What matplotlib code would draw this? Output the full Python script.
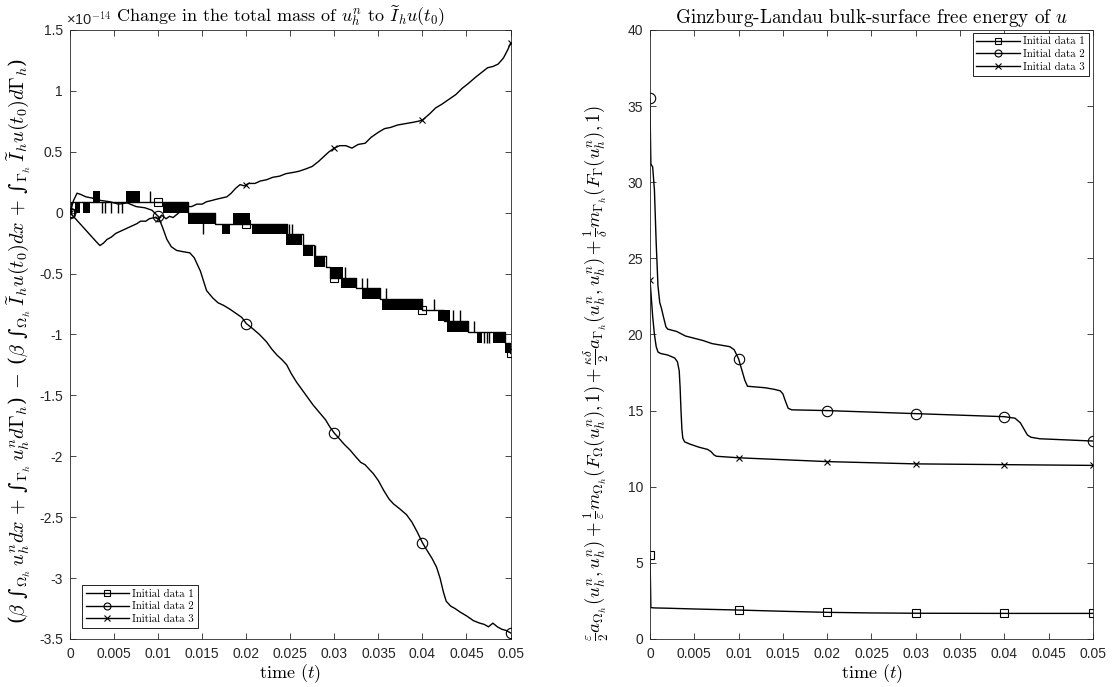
import numpy as np
import matplotlib.pyplot as plt

plt.rcParams["mathtext.fontset"] = "cm"
plt.rcParams["axes.unicode_minus"] = False

# ---------------- left panel: change in total mass (units of 1e-14) ----------------
# Initial data 1: quantised step signal (levels are multiples of ~8.88e-16)
d1_step_t = [0, 0.0001, 0.01, 0.0134, 0.0165, 0.02, 0.0246, 0.0265, 0.0277, 0.0290,
             0.0295, 0.03, 0.0325, 0.0352, 0.04, 0.0425, 0.0452, 0.0494, 0.0499, 0.05]
d1_step_v = [0.0, 0.089, 0.089, 0.0, -0.089, -0.089, -0.178, -0.266, -0.355, -0.444,
             -0.533, -0.533, -0.622, -0.711, -0.799, -0.888, -0.977, -1.066, -1.155, -1.155]
# rapid flicker between two adjacent levels: start, end, low, high
d1_flick_t0 = [0.0006, 0.0015, 0.00265, 0.0064, 0.0106, 0.0134, 0.0172, 0.0185, 0.0206, 0.0245,
               0.0265, 0.0277, 0.0295, 0.0308, 0.0331, 0.0354, 0.0418, 0.0428, 0.0462, 0.0480, 0.0494]
d1_flick_t1 = [0.0011, 0.0023, 0.0034, 0.0079, 0.0134, 0.0164, 0.0182, 0.0204, 0.0246, 0.0263,
               0.0276, 0.0289, 0.0310, 0.0325, 0.0352, 0.0400, 0.0431, 0.0452, 0.0468, 0.0494, 0.0500]
d1_flick_lo = [0.0, 0.0, 0.089, 0.089, 0.0, -0.089, -0.178, -0.089, -0.178, -0.266,
               -0.355, -0.444, -0.533, -0.622, -0.711, -0.799, -0.888, -0.977, -1.066, -1.066, -1.155]
d1_flick_hi = [0.089, 0.089, 0.178, 0.178, 0.089, 0.0, -0.089, 0.0, -0.089, -0.178,
               -0.266, -0.355, -0.444, -0.533, -0.622, -0.711, -0.799, -0.888, -0.977, -0.977, -1.066]
# isolated single flips
d1_stick_t = [0.0036, 0.0040, 0.0047, 0.0055, 0.0059, 0.0091, 0.0151, 0.0248, 0.0252, 0.0278,
              0.0312, 0.0331, 0.0337, 0.0359, 0.0413, 0.0435, 0.0443, 0.0458, 0.0470, 0.0473, 0.0476]
d1_stick_lo = [0.0, 0.0, 0.0, 0.0, 0.0, 0.089, -0.178, -0.178, -0.178, -0.355,
               -0.533, -0.622, -0.622, -0.711, -0.799, -0.888, -0.888, -0.977, -1.066, -1.066, -1.066]
d1_stick_hi = [0.089, 0.089, 0.089, 0.089, 0.089, 0.178, 0.0, -0.089, -0.089, -0.266,
               -0.444, -0.533, -0.533, -0.622, -0.711, -0.799, -0.799, -0.888, -0.977, -0.977, -0.977]

d2_t = [0, 0.0004, 0.0008, 0.0012, 0.0018, 0.0025, 0.003, 0.0035, 0.0045, 0.0055, 0.0065, 0.0075,
        0.0085, 0.0093, 0.01, 0.0105, 0.011, 0.0115, 0.0121, 0.0128, 0.0136, 0.0141, 0.0148, 0.0155,
        0.0162, 0.0168, 0.0174, 0.0181, 0.0189, 0.0195, 0.02, 0.0207, 0.0215, 0.0223, 0.0229, 0.0235,
        0.0241, 0.0246, 0.0251, 0.0257, 0.0265, 0.0271, 0.0276, 0.0283, 0.029, 0.0295, 0.03, 0.0305,
        0.0311, 0.0318, 0.0325, 0.033, 0.0335, 0.034, 0.0344, 0.035, 0.0356, 0.0362, 0.0367, 0.0374,
        0.0382, 0.0388, 0.0394, 0.04, 0.0405, 0.0411, 0.0416, 0.042, 0.0424, 0.0427, 0.0432, 0.0437,
        0.0443, 0.045, 0.0458, 0.0465, 0.047, 0.0475, 0.048, 0.0485, 0.049, 0.0495, 0.05]
d2_v = [0, 0.1, 0.16, 0.15, 0.13, 0.12, 0.11, 0.1, 0.09, 0.07, 0.08, 0.05,
        0.04, 0.02, -0.03, -0.12, -0.22, -0.28, -0.31, -0.32, -0.33, -0.37, -0.48, -0.64,
        -0.7, -0.74, -0.76, -0.79, -0.83, -0.86, -0.91, -0.95, -1.0, -1.06, -1.12, -1.17,
        -1.21, -1.25, -1.32, -1.39, -1.47, -1.53, -1.58, -1.64, -1.7, -1.76, -1.81, -1.85,
        -1.9, -1.95, -2.01, -2.05, -2.07, -2.11, -2.14, -2.2, -2.28, -2.35, -2.39, -2.43,
        -2.48, -2.54, -2.62, -2.71, -2.77, -2.84, -2.91, -3.0, -3.12, -3.19, -3.23, -3.25,
        -3.28, -3.31, -3.35, -3.37, -3.38, -3.4, -3.37, -3.4, -3.42, -3.43, -3.45]

d3_t = [0, 0.0005, 0.001, 0.0015, 0.002, 0.0025, 0.003, 0.0034, 0.0038, 0.0042, 0.0047, 0.0052,
        0.0058, 0.0064, 0.007, 0.0076, 0.008, 0.0086, 0.009, 0.0096, 0.01, 0.0104, 0.0109, 0.0113,
        0.0117, 0.0122, 0.0127, 0.0132, 0.0138, 0.0144, 0.015, 0.0155, 0.0161, 0.0166, 0.0172, 0.0178,
        0.0183, 0.0188, 0.0193, 0.0198, 0.02, 0.0203, 0.021, 0.0216, 0.0223, 0.023, 0.0238, 0.0245,
        0.0253, 0.026, 0.0268, 0.0275, 0.0282, 0.0288, 0.0294, 0.03, 0.0306, 0.0313, 0.032, 0.0327,
        0.0335, 0.0342, 0.035, 0.0357, 0.0364, 0.0372, 0.038, 0.0388, 0.0395, 0.04, 0.0408, 0.0415,
        0.0422, 0.043, 0.0438, 0.0445, 0.0452, 0.046, 0.0467, 0.0474, 0.048, 0.0486, 0.0492, 0.0497, 0.05]
d3_v = [0, -0.04, -0.08, -0.12, -0.16, -0.2, -0.24, -0.27, -0.25, -0.22, -0.2, -0.17,
        -0.15, -0.13, -0.11, -0.09, -0.07, -0.07, -0.05, -0.04, -0.05, -0.02, -0.05, -0.03,
        -0.04, -0.01, 0.02, 0.05, 0.05, 0.07, 0.07, 0.09, 0.1, 0.11, 0.12, 0.13,
        0.16, 0.2, 0.23, 0.22, 0.23, 0.24, 0.24, 0.26, 0.27, 0.29, 0.3, 0.32,
        0.33, 0.34, 0.36, 0.38, 0.42, 0.46, 0.5, 0.53, 0.55, 0.55, 0.53, 0.56,
        0.57, 0.62, 0.66, 0.69, 0.7, 0.72, 0.73, 0.74, 0.75, 0.76, 0.81, 0.86,
        0.89, 0.93, 0.97, 1.02, 1.06, 1.11, 1.15, 1.19, 1.2, 1.22, 1.27, 1.34, 1.39]

# ---------------- right panel: free energy ----------------
e1_t = [0, 0.0001, 0.0005, 0.002, 0.005, 0.01, 0.015, 0.02, 0.025, 0.03, 0.04, 0.05]
e1_v = [5.5, 2.06, 2.04, 2.02, 1.97, 1.9, 1.82, 1.75, 1.71, 1.69, 1.68, 1.68]

e2_t = [0, 0.00005, 0.0001, 0.0003, 0.0005, 0.0007, 0.0009, 0.0011, 0.0013, 0.0015, 0.0018, 0.002,
        0.003, 0.004, 0.005, 0.006, 0.007, 0.008, 0.009, 0.0095, 0.01, 0.0103, 0.0107, 0.011,
        0.012, 0.013, 0.014, 0.0147, 0.015, 0.0153, 0.0156, 0.016, 0.02, 0.025, 0.03, 0.035,
        0.04, 0.0412, 0.0418, 0.0422, 0.0426, 0.043, 0.044, 0.05]
e2_v = [35.5, 33.0, 31.2, 31.0, 29.5, 26.0, 23.2, 22.1, 21.7, 21.2, 20.5, 20.35,
        20.2, 19.9, 19.75, 19.6, 19.4, 19.3, 19.2, 19.0, 18.4, 17.8, 17.0, 16.6,
        16.55, 16.5, 16.4, 16.3, 16.1, 15.6, 15.15, 15.05, 15.0, 14.9, 14.8, 14.7,
        14.6, 14.5, 14.2, 13.8, 13.4, 13.25, 13.15, 13.0]

e3_t = [0, 0.0001, 0.0003, 0.0005, 0.0007, 0.0009, 0.0012, 0.002, 0.0028, 0.0031, 0.0033, 0.0034,
        0.0035, 0.0036, 0.0037, 0.0039, 0.0045, 0.0055, 0.0065, 0.0069, 0.0072, 0.0075, 0.01, 0.02,
        0.03, 0.04, 0.05]
e3_v = [23.6, 22.8, 21.2, 20.0, 19.2, 18.85, 18.75, 18.65, 18.45, 18.2, 17.6, 16.5,
        15.0, 13.8, 13.2, 12.95, 12.8, 12.6, 12.45, 12.3, 12.1, 12.0, 11.9, 11.65,
        11.5, 11.45, 11.4]

marker_times = [0, 0.01, 0.02, 0.03, 0.04, 0.05]
series_labels = ["Initial data 1", "Initial data 2", "Initial data 3"]
x_ticks = [0, 0.005, 0.01, 0.015, 0.02, 0.025, 0.03, 0.035, 0.04, 0.045, 0.05]
x_ticklabels = ["0", "0.005", "0.01", "0.015", "0.02", "0.025", "0.03", "0.035", "0.04", "0.045", "0.05"]
yl_ticks = [1.5, 1, 0.5, 0, -0.5, -1, -1.5, -2, -2.5, -3, -3.5]
yl_ticklabels = ["1.5", "1", "0.5", "0", "-0.5", "-1", "-1.5", "-2", "-2.5", "-3", "-3.5"]
yr_ticks = [0, 5, 10, 15, 20, 25, 30, 35, 40]
yr_ticklabels = ["0", "5", "10", "15", "20", "25", "30", "35", "40"]

SERIF = "cmr10"
SANS = "Liberation Sans"
AX_COLOR = "#262626"
MARKERS = {"s": 5.5, "o": 7.5, "x": 5.0}


def marks(t):
    return [i for i, x in enumerate(t) if any(abs(x - m) < 1e-9 for m in marker_times)]


def style_axes(ax, yticks, yticklabels, ylim):
    ax.set_xlim(0, 0.05)
    ax.set_ylim(*ylim)
    ax.set_xticks(x_ticks)
    ax.set_xticklabels(x_ticklabels, fontfamily=SANS, fontsize=10)
    ax.set_yticks(yticks)
    ax.set_yticklabels(yticklabels, fontfamily=SANS, fontsize=10)
    ax.tick_params(direction="in", top=True, right=True, length=4.5, width=0.6,
                   colors=AX_COLOR, pad=5)
    ax.tick_params(axis="x", pad=6)
    for s in ax.spines.values():
        s.set_color(AX_COLOR)
        s.set_linewidth(0.6)
    ax.set_xlabel(r"time $(t)$", fontfamily=SERIF, fontsize=13, labelpad=1)


def legend(ax, handles, **where):
    leg = ax.legend(handles, series_labels, borderaxespad=0,
                    prop={"family": SERIF, "size": 7.8}, handlelength=4.0,
                    handletextpad=0.3, labelspacing=0.3, borderpad=0.35, fancybox=False,
                    edgecolor="black", framealpha=1, **where)
    leg.get_frame().set_linewidth(0.6)
    for h in leg.legend_handles:
        h.set_markersize(5)
    return leg


fig = plt.figure(figsize=(11.13, 6.87), dpi=100)
axL = fig.add_axes([0.0629, 0.0699, 0.3958, 0.8865])
axR = fig.add_axes([0.584, 0.0699, 0.398, 0.8865])

kw = dict(color="black", lw=1.0, mfc="none", mew=0.8)

# left
h1, = axL.plot(d1_step_t, d1_step_v, drawstyle="steps-post", marker="s", ms=MARKERS["s"],
               markevery=marks(d1_step_t), zorder=3, **kw)
axL.bar(d1_flick_t0, np.subtract(d1_flick_hi, d1_flick_lo),
        width=np.subtract(d1_flick_t1, d1_flick_t0), bottom=d1_flick_lo,
        align="edge", color="black", lw=0, zorder=2)
axL.vlines(d1_stick_t, d1_stick_lo, d1_stick_hi, color="black", lw=1.0, zorder=2)
h2, = axL.plot(d2_t, d2_v, marker="o", ms=MARKERS["o"], markevery=marks(d2_t), zorder=3, **kw)
h3, = axL.plot(d3_t, d3_v, marker="x", ms=MARKERS["x"], markevery=marks(d3_t), zorder=3, **kw)
style_axes(axL, yl_ticks, yl_ticklabels, (-3.5, 1.5))
axL.text(-0.008, 1.003, "\u00d710$^{\\mathsf{-14}}$", transform=axL.transAxes,
         fontfamily=SANS, fontsize=10.5, color=AX_COLOR, ha="left", va="bottom")
axL.text(0.478, 1.0148,
         r"Change in the total mass of $u_h^n$ to $\widetilde{I}_h u(t_0)$",
         transform=axL.transAxes, fontfamily=SERIF, fontsize=13, ha="center", va="baseline")
# integral signs as ordinary text glyphs so they stay text-sized
INT = "\u222b"
left_ylabel = ("(" + r"$\beta$ " + INT + r"$_{\Omega_h}\, u_h^n dx\, +\, $" + INT
               + r"$_{\Gamma_h}\, u_h^n d\Gamma_h$" + ")" + r"$\;-\;$" + "("
               + r"$\beta$ " + INT + r"$_{\Omega_h}\, \widetilde{I}_h u(t_0) dx\, +\, $" + INT
               + r"$_{\Gamma_h}\, \widetilde{I}_h u(t_0) d\Gamma_h$" + ")")
axL.set_ylabel(left_ylabel, fontfamily="DejaVu Serif", fontsize=14.5, labelpad=0)
axL.yaxis.set_label_coords(-0.084, 0.49)
legend(axL, [h1, h2, h3], loc="lower left", bbox_to_anchor=(0.027, 0.018))

# right
g1, = axR.plot(e1_t, e1_v, marker="s", ms=MARKERS["s"], markevery=marks(e1_t), **kw)
g2, = axR.plot(e2_t, e2_v, marker="o", ms=MARKERS["o"], markevery=marks(e2_t), **kw)
g3, = axR.plot(e3_t, e3_v, marker="x", ms=MARKERS["x"], markevery=marks(e3_t), **kw)
style_axes(axR, yr_ticks, yr_ticklabels, (0, 40))
axR.set_title(r"Ginzburg-Landau bulk-surface free energy of $u$",
              fontfamily=SERIF, fontsize=13.8, pad=5)
axR.set_ylabel(r"$\frac{\varepsilon}{2}a_{\Omega_h}(u_h^n,u_h^n)+\frac{1}{\varepsilon}"
               r"m_{\Omega_h}(F_\Omega(u_h^n),1)+\frac{\kappa\delta}{2}a_{\Gamma_h}(u_h^n,u_h^n)"
               r"+\frac{1}{\delta}m_{\Gamma_h}(F_\Gamma(u_h^n),1)$",
               fontsize=13.5, labelpad=4)
axR.yaxis.set_label_coords(-0.088, 0.437)
legend(axR, [g1, g2, g3], loc="upper right", bbox_to_anchor=(0.99, 0.995))

fig.savefig("out.png", dpi=100)
